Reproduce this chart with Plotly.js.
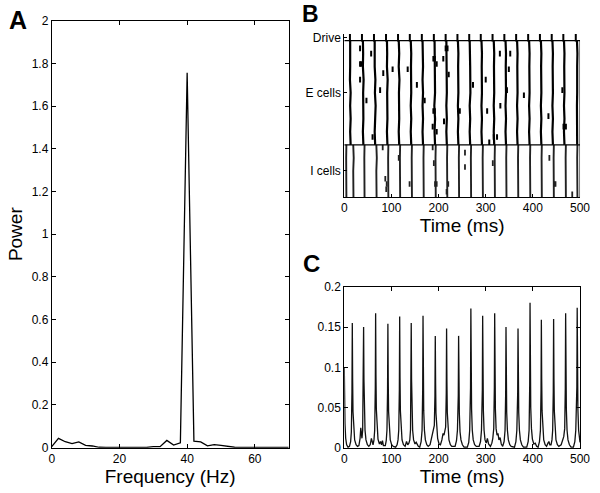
<!DOCTYPE html>
<html>
<head>
<meta charset="utf-8">
<script src="https://cdn.plot.ly/plotly-3.0.1.min.js"></script>
<style>html,body{margin:0;padding:0;background:#fff;}#chart{width:600px;height:493px;}</style>
</head>
<body>
<div id="chart"></div>
<script>
// ---------- Panel A: power spectrum ----------
const freqHz = [0,2,4,6,8,10,12,14,16,18,20,22,24,26,28,30,32,34,36,38,40,42,44,46,48,50,52,54,56,58,60,62,64,66,68,70];
const power  = [0.005,0.044,0.028,0.019,0.027,0.011,0.008,0.002,0.001,0.001,0.001,0.001,0.001,0.001,0.001,0.005,0.005,0.034,0.012,0.023,1.756,0.031,0.027,0.009,0.014,0.011,0.005,0.002,0.001,0.001,0.001,0.001,0.001,0.001,0.001,0.001];

// ---------- Panel B: raster ----------
const driveTimes = [12,37.5,63,88.5,114,139,164.5,190,215,240,265,289.5,314.5,339.5,364.5,390,415,440,464.6,491];
const driveRow = 61.2;
const eLevels = [20,25,30,35,40,45,50,55,60];
const eFronts = [
  [13.5,12.5,13.5,12.5,13.5,12,12.5,13,12.5],
  [40.5,39.5,40.5,39.5,40,41,39.5,40,39.5],
  [65.5,64.5,65.5,66.5,65,66,64.5,65,64.5],
  [91.5,90.5,91.5,90.5,91,92,90.5,91,90.5],
  [116.5,115.5,116.5,115.5,116,117,115.5,116.5,115.5],
  [142,141,142,141,142,141,141.5,142,141],
  [167,166,167,166,167,166,167,167,166],
  [192.5,191.5,192.5,191,192.5,192,191.5,192.5,191.5],
  [217.5,216.5,217.5,216.5,217.5,217.5,216.5,217,216.5],
  [242,241,242,241,242,241,241.5,242,241],
  [267,266,267,266,267.5,266.5,267,266.5,266],
  [292,291,292,291,292,291,291.5,292,291],
  [318,317,318,317,318,317,317.5,318,317],
  [343,342,343,342,343,342,342.5,343,342],
  [367.5,366.5,367.5,366.5,367.5,366.5,367,367.5,366.5],
  [393,392,393,392,393,392,392.5,393,392],
  [418,417,418,417,418,417,417.5,418,417],
  [442.5,441.5,442.5,441.5,442.5,441.5,442,442.5,441.5],
  [467,466,467,466,467,466,466.5,467,466],
  [494,493.5,494.5,493.5,494,493.5,494,494.5,493.5]
];
const iLevels = [0,5,10,15,20];
const iFronts = [
  [4.5,4,5,4,4.5],
  [19.5,18.5,19,20,19],
  [43,42.5,43.5,42.5,43],
  [68.5,67.5,68,69,68],
  [93.5,93,94,93,93.5],
  [118.5,118,119,118,118.5],
  [143.5,143,144,143,143.5],
  [168.5,168,169,168,168.5],
  [194,193.5,194.5,193.5,194],
  [218.5,218,219,218,218.5],
  [243.5,243,244,243,243.5],
  [269,268.5,269.5,268.5,269],
  [294,293.5,294.5,293.5,294],
  [319.5,319,320,319,319.5],
  [344,343.5,344.5,343.5,344],
  [369,368.5,369.5,368.5,369],
  [394.5,394,395,394,394.5],
  [419,418.5,419.5,418.5,419],
  [444.5,444,445,444,444.5],
  [470,469.5,470.5,469.5,470],
  [494.5,494,495,494,494.5]
];
const eExtraT    = [33.5,57,33.5,36,33.5,82.7,102.5,76,47,134.5,154,170.5,60,189,192,210,215,219,196,221.5,189,192,245,192.5,211.5,187.5,196,273,300,303,330,352,349,345,331,381,317,324,307.5,433,462.5,465,470];
const eExtraCell = [57,55,51,51,45,47.5,49,41,37,49,43,37,23,53,53,53,57,57,51,47,33,33,33,30,29,27,25,43,45,33,55,55,49,41,35,39,23,23,21,31,41,27,27];
const iExtraT    = [81.5,115.5,87,90,89,138.5,187.5,190,192.5,196,220.5,217,256,256,315,435,445.5,448,483.5];
const iExtraCell = [19,15,7,5,3,5,19,13,5,5,5,2,17,11.5,13,15,5,5,1];
const rasterTicks = [61,40,10];
const rasterLabels = ['Drive','E cells','I cells'];

// ---------- Panel C: population signal ----------
const cTime = [
  0,0.6,1.5,3,5,8,
  11,13.5,15,16.3,17,17.7,18.5,20,22,25,28,
  31,33.5,35,36.5,
  37.5,39,40.3,41,41.7,42.5,44,46,49,52,
  55,57.5,59.5,
  61,63,64.5,65.8,66.5,67.2,68,69.5,71.5,74.5,
  77,79,81,83,
  87,89,90.5,91.8,92.5,93.2,94,95.5,97.5,100.5,104,
  109,112,114,115.5,116.8,117.5,118.2,119,120.5,122.5,125.5,
  129,132,134.5,
  137,139,140.5,141.3,142,142.7,143.5,145,147,150,
  152.5,154.5,157,
  160,163,165,166.3,167,167.7,168.5,170,172,175,178,
  182,185,187.5,189.5,
  191,192.3,193,193.7,194.5,196,198,201,
  204,207,209.5,211.5,213.5,
  215,216.3,217,217.7,218.5,220,222,225,228,
  235,238,240,241.8,242.5,243.2,244,245.5,247.5,250.5,254,
  261,264,266,267.8,268.5,269.2,270,271.5,273.5,276.5,280,
  286,289,291,292.8,293.5,294.2,295,296.5,298.5,301,303.5,306,
  310,313,315,317,318.3,319,319.7,320.5,322,324,326,328,330.5,333,
  336,339,341,342.3,343,343.7,344.5,346,348,351,354,
  361,364,366,367.8,368.5,369.2,370,371.5,373.5,376.5,380,
  387,390,392,393.3,394,394.7,395.5,397,399,402,405,408,
  411,414,416,417.3,418,418.7,419.5,421,423,426,429,
  432,434,436,
  438.5,440.5,442,443.3,444,444.7,445.5,447,449,452,455,
  460,463,465.5,
  467.5,468.8,469.5,470.2,471,472.5,474.5,477.5,481,
  486,489,491,493.3,494,494.7,495.5,497,499,500
];
const cValue = [
  0.1,0.06,0.03,0.012,0.004,0.001,
  0.002,0.008,0.02,0.07,0.155,0.085,0.045,0.022,0.01,0.004,0.002,
  0.003,0.012,0.025,0.012,
  0.012,0.022,0.07,0.15,0.085,0.045,0.022,0.01,0.004,0.002,
  0.004,0.012,0.006,
  0.004,0.01,0.022,0.075,0.167,0.09,0.048,0.022,0.011,0.005,
  0.008,0.004,0.009,0.003,
  0.003,0.009,0.022,0.07,0.154,0.085,0.045,0.022,0.01,0.004,0.002,
  0.001,0.004,0.01,0.022,0.072,0.163,0.088,0.046,0.022,0.01,0.004,
  0.002,0.008,0.004,
  0.006,0.01,0.023,0.07,0.155,0.085,0.045,0.022,0.01,0.005,
  0.007,0.004,0.002,
  0.001,0.008,0.022,0.072,0.164,0.088,0.046,0.022,0.01,0.004,0.002,
  0.004,0.012,0.018,0.02,
  0.028,0.065,0.139,0.08,0.043,0.022,0.012,0.005,
  0.004,0.01,0.018,0.016,0.02,
  0.026,0.068,0.148,0.082,0.044,0.022,0.01,0.004,0.002,
  0.002,0.009,0.022,0.065,0.139,0.08,0.043,0.02,0.01,0.004,0.001,
  0.001,0.007,0.022,0.075,0.173,0.09,0.048,0.022,0.01,0.004,0.002,
  0.002,0.008,0.022,0.072,0.164,0.088,0.046,0.022,0.01,0.006,0.012,0.005,
  0.002,0.006,0.012,0.024,0.075,0.167,0.09,0.048,0.024,0.016,0.018,0.01,0.013,0.005,
  0.002,0.008,0.022,0.068,0.15,0.082,0.044,0.022,0.01,0.004,0.002,
  0.001,0.008,0.022,0.068,0.148,0.082,0.044,0.022,0.01,0.004,0.001,
  0.001,0.008,0.022,0.078,0.18,0.094,0.05,0.024,0.011,0.005,0.006,0.002,
  0.001,0.008,0.022,0.07,0.159,0.086,0.046,0.022,0.01,0.004,0.002,
  0.006,0.008,0.004,
  0.004,0.01,0.022,0.07,0.16,0.086,0.046,0.022,0.01,0.004,0.002,
  0.004,0.01,0.014,
  0.024,0.075,0.167,0.09,0.048,0.022,0.01,0.004,0.001,
  0.001,0.008,0.022,0.076,0.174,0.092,0.048,0.022,0.01,0.007
];

// ---------- build traces ----------
function frontTrace(fronts, levels) {
  const x = [], y = [];
  fronts.forEach(f => { f.forEach((t, j) => { x.push(t); y.push(levels[j]); }); x.push(null); y.push(null); });
  return {x, y};
}
const eF = frontTrace(eFronts, eLevels);
const iF = frontTrace(iFronts, iLevels);

const FONT = 'Liberation Sans, Arial, Helvetica, sans-serif';
const traces = [
  {x: freqHz, y: power, type: 'scatter', mode: 'lines', line: {color: '#000', width: 1.3}, xaxis: 'x', yaxis: 'y'},
  {x: eF.x, y: eF.y, type: 'scatter', mode: 'lines', line: {color: '#000', width: 2.2}, connectgaps: false, xaxis: 'x2', yaxis: 'y2'},
  {x: iF.x, y: iF.y, type: 'scatter', mode: 'lines', line: {color: '#222', width: 1.9}, connectgaps: false, xaxis: 'x2', yaxis: 'y2'},
  {x: driveTimes, y: driveTimes.map(() => driveRow), type: 'scatter', mode: 'markers',
   marker: {symbol: 'line-ns-open', size: 6, color: '#000', line: {color: '#000', width: 2}}, xaxis: 'x2', yaxis: 'y2'},
  {x: eExtraT, y: eExtraCell, type: 'scatter', mode: 'markers',
   marker: {symbol: 'line-ns-open', size: 4, color: '#000', line: {color: '#000', width: 2}}, xaxis: 'x2', yaxis: 'y2'},
  {x: iExtraT, y: iExtraCell, type: 'scatter', mode: 'markers',
   marker: {symbol: 'line-ns-open', size: 4, color: '#222', line: {color: '#222', width: 1.8}}, xaxis: 'x2', yaxis: 'y2'},
  {x: cTime, y: cValue, type: 'scatter', mode: 'lines', line: {color: '#111', width: 1.3}, xaxis: 'x3', yaxis: 'y3'}
];

const axBase = {showgrid: false, zeroline: false, showline: true, linecolor: '#000', linewidth: 1,
  ticks: 'inside', ticklen: 4, tickcolor: '#000', tickfont: {family: FONT, size: 12, color: '#000'}};

const layout = {
  width: 600, height: 493,
  margin: {l: 0, r: 0, t: 0, b: 0},
  paper_bgcolor: '#fff', plot_bgcolor: '#fff',
  showlegend: false,
  font: {family: FONT, color: '#000', size: 12},
  xaxis: Object.assign({}, axBase, {domain: [0.0862, 0.4812], anchor: 'y', range: [0, 70], tick0: 0, dtick: 20, mirror: 'ticks',
    title: {text: 'Frequency (Hz)', font: {family: FONT, size: 19}, standoff: 3}}),
  yaxis: Object.assign({}, axBase, {domain: [0.0919, 0.958], anchor: 'x', range: [0, 2], tick0: 0, dtick: 0.2, mirror: 'ticks',
    title: {text: 'Power', font: {family: FONT, size: 19}, standoff: 3}}),
  xaxis2: Object.assign({}, axBase, {domain: [0.5738, 0.9667], anchor: 'y2', range: [0, 500], tick0: 0, dtick: 100, mirror: false, ticklen: 3,
    title: {text: 'Time (ms)', font: {family: FONT, size: 19}, standoff: 0}}),
  yaxis2: Object.assign({}, axBase, {domain: [0.6004, 0.931], anchor: 'x2', range: [0, 62.5], mirror: false,
    tickmode: 'array', tickvals: rasterTicks, ticktext: rasterLabels, ticks: 'inside', ticklen: 3}),
  xaxis3: Object.assign({}, axBase, {domain: [0.5738, 0.9667], anchor: 'y3', range: [0, 500], tick0: 0, dtick: 100, mirror: 'ticks',
    title: {text: 'Time (ms)', font: {family: FONT, size: 19}, standoff: 2}}),
  yaxis3: Object.assign({}, axBase, {domain: [0.0913, 0.4185], anchor: 'x3', range: [0, 0.2], tick0: 0, dtick: 0.05, mirror: 'ticks'}),
  shapes: [
    {type: 'line', xref: 'x2', yref: 'y2', x0: 0, x1: 500, y0: 60, y1: 60, line: {color: '#000', width: 1.3}},
    {type: 'line', xref: 'x2', yref: 'y2', x0: 0, x1: 500, y0: 20, y1: 20, line: {color: '#000', width: 1.3}},
    {type: 'line', xref: 'x2', yref: 'y2', x0: 500, x1: 500, y0: 0, y1: 60, line: {color: '#000', width: 1}}
  ],
  annotations: [
    {text: '<b>A</b>', xref: 'paper', yref: 'paper', x: 7/600, y: 1 - 4/493, xanchor: 'left', yanchor: 'top', showarrow: false, font: {family: FONT, size: 25, color: '#000'}},
    {text: '<b>B</b>', xref: 'paper', yref: 'paper', x: 300/600, y: 1 + 1/493, xanchor: 'left', yanchor: 'top', showarrow: false, font: {family: FONT, size: 23, color: '#000'}},
    {text: '<b>C</b>', xref: 'paper', yref: 'paper', x: 301/600, y: 1 - 248/493, xanchor: 'left', yanchor: 'top', showarrow: false, font: {family: FONT, size: 24, color: '#000'}}
  ]
};

Plotly.newPlot('chart', traces, layout, {staticPlot: true, displayModeBar: false});
</script>
</body>
</html>
